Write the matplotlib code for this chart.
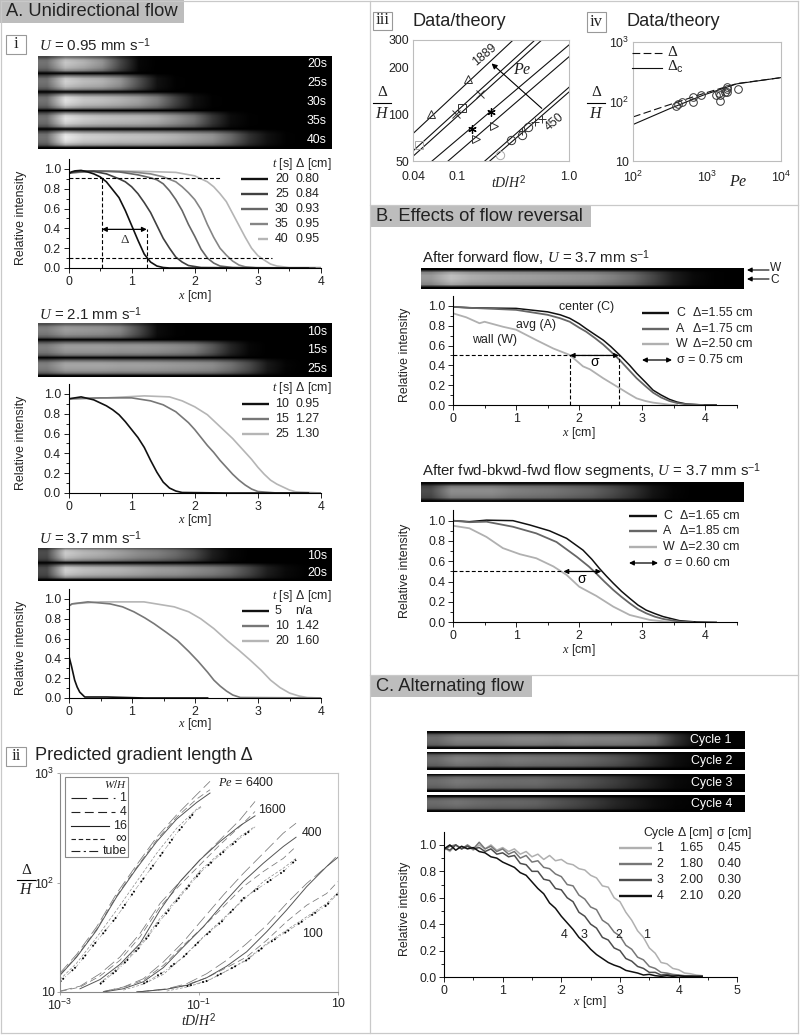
import numpy as np
import matplotlib
matplotlib.use('Agg')
import matplotlib.pyplot as plt
from matplotlib.patches import Rectangle

plt.rcParams['font.family'] = ['Liberation Sans', 'DejaVu Sans']
plt.rcParams['mathtext.fontset'] = 'custom'
plt.rcParams['mathtext.rm'] = 'Liberation Sans'
plt.rcParams['mathtext.it'] = 'Liberation Serif:italic'
plt.rcParams['mathtext.bf'] = 'Liberation Sans:bold'

# strip brightness along the channel (16 evenly spaced columns)
a1_20 = [.45, .78, .7, .58, .28, .03, 0, 0, 0, 0, 0, 0, 0, 0, 0, 0]
a1_25 = [.45, .82, .74, .7, .58, .32, .07, .01, 0, 0, 0, 0, 0, 0, 0, 0]
a1_30 = [.45, .88, .78, .75, .7, .63, .5, .27, .07, .01, 0, 0, 0, 0, 0, 0]
a1_35 = [.45, .88, .8, .76, .74, .72, .68, .58, .46, .22, .05, .01, 0, 0, 0, 0]
a1_40 = [.45, .92, .82, .8, .77, .76, .74, .7, .64, .58, .42, .2, .07, .01, 0, 0]
a2_10 = [.5, .62, .6, .58, .52, .3, .05, .01, 0, 0, 0, 0, 0, 0, 0, 0]
a2_15 = [.5, .62, .62, .62, .6, .6, .58, .55, .5, .35, .15, .03, 0, 0, 0, 0]
a2_25 = [.5, .65, .65, .65, .63, .63, .62, .6, .58, .55, .45, .3, .1, .02, 0, 0]
a3_10 = [.3, .8, .72, .68, .62, .55, .5, .42, .3, .12, .03, 0, 0, 0, 0, 0]
a3_20 = [.3, .82, .75, .72, .7, .66, .62, .6, .55, .5, .42, .28, .12, .04, .01, 0]
b1_strip = [.6, .75, .68, .65, .63, .62, .6, .58, .56, .5, .42, .28, .12, .04, .01, 0]
b2_strip = [.3, .55, .55, .55, .5, .48, .46, .42, .38, .3, .2, .08, .02, 0, 0, 0]
c_strip1 = [.42, .5, .5, .5, .52, .52, .5, .52, .5, .5, .48, .42, .2, .05, .02, .01]
c_strip2 = [.42, .5, .48, .45, .47, .45, .44, .42, .38, .33, .25, .15, .06, .02, .01, .01]
c_strip3 = [.42, .47, .45, .43, .42, .42, .38, .35, .3, .24, .17, .1, .04, .02, .01, .01]
c_strip4 = [.42, .45, .42, .4, .4, .38, .33, .28, .22, .15, .1, .05, .02, .01, .01, .01]

# panel A i, U = 0.95
i20_x = [0, .05, .1, .2, .3, .4, .5, .6, .7, .8, .9, 1.0, 1.1, 1.2, 1.3, 1.4, 1.5, 1.6, 1.8, 2.5, 3.8]
i20_y = [.95, .97, .98, .985, .97, .95, .92, .87, .79, .71, .58, .43, .28, .14, .06, .02, .005, 0, 0, 0, 0]
i25_x = [0, .2, .4, .6, .8, .9, 1.0, 1.1, 1.2, 1.3, 1.4, 1.5, 1.6, 1.7, 1.8, 1.9, 2.1, 3, 3.9]
i25_y = [.96, .98, .975, .95, .9, .87, .82, .75, .66, .56, .43, .3, .2, .11, .06, .025, .005, 0, 0]
i30_x = [0, .4, .8, 1.1, 1.3, 1.4, 1.5, 1.6, 1.7, 1.8, 1.9, 2.0, 2.1, 2.2, 2.3, 2.4, 2.6, 3.9]
i30_y = [.96, .98, .97, .94, .91, .89, .85, .78, .69, .58, .44, .32, .19, .1, .05, .02, .005, 0]
i35_x = [0, .5, 1, 1.3, 1.5, 1.7, 1.8, 1.9, 2.0, 2.1, 2.2, 2.3, 2.4, 2.5, 2.6, 2.7, 2.8, 3, 4]
i35_y = [.96, .98, .97, .95, .92, .87, .82, .76, .69, .59, .44, .31, .2, .13, .07, .03, .012, 0, 0]
i40_x = [0, .6, 1.2, 1.7, 2.0, 2.2, 2.3, 2.4, 2.5, 2.6, 2.7, 2.8, 2.9, 3.0, 3.1, 3.2, 3.3, 3.5, 4]
i40_y = [.96, .98, .975, .965, .93, .87, .82, .75, .67, .55, .43, .31, .2, .125, .08, .04, .02, .005, .005]

# panel A, U = 2.1
u2_10_x = [0, .2, .4, .5, .6, .7, .8, .9, 1.0, 1.1, 1.2, 1.3, 1.4, 1.5, 1.6, 1.7, 1.8, 2.5, 3.8]
u2_10_y = [.95, .97, .94, .91, .88, .84, .79, .72, .64, .56, .46, .33, .21, .11, .05, .02, .005, 0, 0]
u2_15_x = [0, .5, 1, 1.3, 1.5, 1.7, 1.9, 2.0, 2.1, 2.2, 2.3, 2.4, 2.5, 2.6, 2.7, 2.8, 2.9, 3.0, 3.3, 4]
u2_15_y = [.95, .96, .96, .93, .89, .82, .71, .64, .56, .48, .41, .33, .26, .19, .13, .08, .04, .015, 0, 0]
u2_25_x = [0, .6, 1.2, 1.6, 1.8, 2.0, 2.2, 2.4, 2.6, 2.7, 2.8, 2.9, 3.0, 3.1, 3.2, 3.3, 3.4, 3.5, 3.6, 4]
u2_25_y = [.95, .96, .98, .97, .93, .87, .79, .67, .55, .48, .41, .34, .26, .19, .13, .09, .06, .03, .012, 0]

# panel A, U = 3.7
u3_5_x = [0, .04, .09, .13, .17, .25, .6, 1.2, 2.2]
u3_5_y = [.42, .32, .18, .11, .06, .01, .01, 0, 0]
u3_10_x = [0, .05, .3, .65, .85, 1.03, 1.2, 1.35, 1.55, 1.72, 1.9, 2.05, 2.2, 2.3, 2.4, 2.5, 2.6, 2.72, 4]
u3_10_y = [.93, .95, .97, .95, .92, .87, .81, .75, .66, .58, .47, .37, .26, .18, .12, .07, .03, .005, 0]
u3_20_x = [0, .05, .5, 1.19, 1.67, 1.9, 2.09, 2.3, 2.51, 2.7, 2.88, 3.05, 3.2, 3.35, 3.5, 3.65, 3.78, 4]
u3_20_y = [.93, .95, .97, .97, .92, .87, .8, .7, .58, .48, .38, .28, .18, .105, .05, .02, .005, 0]

# panel A ii, predicted gradient length
pe6400_x = [.001, .00174, .00337, .00653, .0127, .0246, .0477, .0925, .144]
pe6400_xs = [.001, .00174, .00337, .00653, .0127, .0246, .0477, .0925, .107]
pe6400_w1 = [14.9, 22.1, 39.4, 79.4, 145, 259, 415, 634, 839]
pe6400_w4 = [14.4, 21.2, 37.5, 75.7, 138, 245, 395, 578, 703]
pe6400_w16 = [14.2, 20.9, 36.7, 74, 135, 236, 379, 538, 656]
pe6400_inf = [13, 18.4, 31.5, 56, 102, 185, 313, 468, 495]
pe6400_tube = [12.4, 17.2, 29.1, 48.6, 89.7, 158, 282, 461, 484]
pe1600_x = [.001, .00194, .00377, .0073, .01416, .0275, .0533, .1033, .2, .389, .64]
pe1600_w1 = [10.2, 11.3, 14.7, 20.9, 34.2, 64.4, 102, 161, 245, 374, 550]
pe1600_w4 = [10.1, 11.1, 14, 19.5, 31.9, 60, 95, 145, 221, 325, 445]
pe1600_w16 = [np.nan, 10.7, 13, 17.9, 27.7, 56, 102, 161, 236, 330, 406]
pe1600_inf = [np.nan, np.nan, 12.1, 17.3, 26.7, 47, 76.8, 128, 185, 263, 325]
pe1600_tube = [np.nan, np.nan, 11.8, 16.7, 25.8, 44.7, 74, 123, 179, 254, 320]
pe400_x = [.0042, .00815, .0158, .0307, .0595, .1154, .224, .434, .843, 1.63, 2.49]
pe400_w1 = [10.1, 11.1, 13.2, 18.8, 28.7, 47, 76.8, 121, 185, 282, 348]
pe400_w4 = [10.1, 11, 12.8, 17.5, 26.7, 39.4, 60, 91.6, 126, 166, 213]
pe400_w16 = [10, 10.7, 12.4, 16.7, 25.8, 39.4, 64.4, 102, 150, 213, 259]
pe400_inf = [np.nan, 10.4, 11.8, 14.5, 20.9, 31.9, 47, 69, 102, 135, 166]
pe400_tube = [np.nan, np.nan, 11.9, 15.2, 20.9, 31.5, 45.3, 71.6, 95, 126, 161]
pe100_x = [.0127, .0343, .0665, .129, .25, .485, .942, 1.82, 3.54, 6.87, 10]
pe100_w1 = [10, 10.7, 11.9, 14.7, 19.5, 27.7, 40.7, 64.4, 98, 140, 179]
pe100_w4 = [10, 10.6, 11.6, 13.5, 16.7, 20.9, 29.7, 43.9, 62, 79.4, 102]
pe100_w16 = [10, 10.6, 11.5, 13.5, 17.2, 23.3, 35.5, 56, 91.6, 140, 170]
pe100_inf = [np.nan, 10.2, 11.1, 12.5, 15.6, 19.8, 27.7, 36.7, 48.6, 64.4, 81]
pe100_tube = [np.nan, np.nan, 11.3, 12.6, 15.6, 19.5, 27.1, 35.5, 46.9, 62, 79.4]

# panel A iii, data/theory
iii_lines_x = [[.04, .316], [.04, .496], [.04, .57], [.0593, 1], [.0825, 1], [.176, 1], [.195, 1]]
iii_lines_y = [[75, 300], [58, 300], [53.6, 300], [50, 279], [50, 234], [50, 149], [50, 139]]
tri_up_x, tri_up_y = [.0585, .1247], [101, 168]
square_x, square_y = [.11], [109]
square_gray_x, square_gray_y = [.0453], [63.8]
cross_x, cross_y = [.0966, .161], [101, 134]
star_x, star_y = [.134, .198], [80, 103.6]
tri_right_x, tri_right_y = [.146, .212], [69.7, 84.5]
circle_x, circle_y = [.3, .376, .432], [68, 73.2, 82.8]
circle_gray_x, circle_gray_y = [.24], [54.4]
plus_x, plus_y = [.376, .496, .57], [78, 89, 93.7]

# panel A iv
iv_pe = [100, 255, 891, 2530, 10000]
iv_pe2 = [100, 315, 891, 2530, 10000]
iv_delta = [55, 81.4, 136, 200, 252]
iv_delta_c = [41, 76, 128, 198, 252]
iv_pts_pe = [387, 408, 453, 652, 652, 820, 1312, 1469, 1500, 1500, 1754, 1849, 1849, 1849, 2660]
iv_pts_d = [83.6, 90, 98.7, 97, 117, 128, 128, 141.5, 131, 102.6, 145, 176, 165, 145, 161]

# panel B, after forward flow
b1_c_x = [0, .3, 1.0, 1.5, 1.7, 1.85, 2.0, 2.11, 2.25, 2.38, 2.5, 2.64, 2.8, 2.91, 3.05, 3.17, 3.3, 3.43, 3.55, 3.7, 3.96, 4.17]
b1_c_y = [.99, .98, .975, .94, .91, .875, .82, .77, .71, .655, .59, .505, .4, .32, .23, .15, .1, .057, .03, .01, 0, 0]
b1_a_x = [0, .3, 1.0, 1.5, 1.7, 1.85, 2.0, 2.11, 2.25, 2.38, 2.5, 2.64, 2.8, 2.91, 3.05, 3.17, 3.3, 3.43, 3.55, 3.7, 3.96]
b1_a_y = [.99, .98, .96, .91, .875, .84, .78, .74, .675, .61, .54, .455, .345, .27, .19, .125, .075, .04, .02, .007, 0]
b1_w_x = [0, .21, .42, .5, .79, 1, 1.32, 1.59, 1.85, 2.06, 2.17, 2.38, 2.64, 2.78, 2.91, 3.05, 3.17, 3.43, 3.55]
b1_w_y = [.925, .885, .825, .84, .79, .76, .655, .57, .505, .39, .36, .27, .17, .115, .067, .04, .024, .003, 0]

# panel B, fwd-bkwd-fwd
b2_c_x = [0, .26, .53, .95, 1.22, 1.53, 1.8, 2.06, 2.2, 2.32, 2.43, 2.54, 2.67, 2.8, 2.93, 3.06, 3.2, 3.33, 3.59, 3.86, 4.17]
b2_c_y = [1.0, .99, 1.005, 1.0, .957, .9, .826, .71, .62, .53, .455, .384, .305, .236, .17, .12, .085, .056, .016, .003, 0]
b2_a_x = [0, .26, .53, .95, 1.32, 1.64, 1.96, 2.15, 2.27, 2.4, 2.54, 2.67, 2.8, 2.93, 3.06, 3.2, 3.33, 3.59, 3.8]
b2_a_y = [1.0, .985, .99, .94, .875, .79, .645, .55, .48, .4, .318, .25, .187, .13, .089, .055, .033, .007, 0]
b2_w_x = [0, .26, .53, .79, 1.06, 1.32, 1.59, 1.8, 2.0, 2.27, 2.54, 2.8, 3.12, 3.43, 3.6]
b2_w_y = [.95, .925, .84, .73, .67, .63, .55, .466, .35, .26, .154, .072, .023, .003, 0]

# panel C, alternating flow
cycle_x = [0, .1, .2, .3, .4, .5, .6, .7, .8, .9, 1.0, 1.1, 1.2, 1.3, 1.4, 1.5, 1.6, 1.7, 1.8, 1.9, 2.0, 2.1,
           2.2, 2.3, 2.4, 2.5, 2.6, 2.7, 2.8, 2.9, 3.0, 3.1, 3.2, 3.3, 3.4, 3.5, 3.6, 3.7, 3.8, 3.9, 4.0,
           4.1, 4.2, 4.3, 4.4]
cycle1 = [.98, .95, 1.0, .97, .99, .96, 1.0, .97, 1.0, .96, .98, .95, .97, .93, .95, .91, .93, .89, .92, .88,
          .89, .86, .85, .82, .81, .77, .75, .69, .68, .6, .57, .49, .43, .35, .3, .22, .18, .11, .1, .065,
          .055, .03, .025, .015, .01]
cycle2 = [.96, .99, 1.0, .97, 1.0, .97, 1.02, .97, .99, .95, .97, .93, .95, .9, .92, .87, .88, .83, .82, .78,
          .76, .7, .69, .62, .59, .53, .51, .43, .4, .34, .31, .24, .21, .15, .13, .08, .065, .035, .03, .02,
          .015, .01, .01, .005, .005]
cycle3 = [.98, .96, 1.0, .97, .99, .97, .98, .95, .97, .93, .94, .91, .92, .86, .85, .8, .8, .74, .73, .67,
          .66, .6, .57, .49, .46, .4, .37, .3, .28, .22, .2, .14, .12, .08, .065, .035, .035, .015, .02,
          .01, .01, .005, .005, .005, .005]
cycle4 = [.97, 1.0, .96, .99, .97, .98, .95, .94, .91, .9, .87, .85, .83, .79, .77, .72, .67, .63, .56, .52,
          .46, .41, .36, .3, .26, .21, .17, .14, .11, .09, .075, .05, .04, .03, .015, .02, .01, .005, .01,
          .005, .01, .005, .005, .005, .005]

fig = plt.figure(figsize=(8, 10.35), dpi=100)
fig.patch.set_facecolor('white')


def px_axes(left, top, right, bottom, **kw):
    return fig.add_axes([left / 800, 1 - bottom / 1035, (right - left) / 800, (bottom - top) / 1035], **kw)


# overlay in picture pixels for texts, frames and legends
ov = px_axes(0, 0, 800, 1035, zorder=20)
ov.set_xlim(0, 800)
ov.set_ylim(1035, 0)
ov.axis('off')
ov.patch.set_alpha(0)


def txt(x, y, s, size=8.9, **kw):
    kw.setdefault('va', 'center')
    kw.setdefault('color', '#222222')
    return ov.text(x, y, s, fontsize=size, **kw)


def strip(left, top, right, bottom, profiles, rows=(.6, .95, 1, .97, .9, .7, 0)):
    ax = px_axes(left, top, right, bottom)
    img = np.vstack([np.outer(rows, p) for p in profiles])
    ax.imshow(img, cmap='gray', vmin=0, vmax=1, aspect='auto', interpolation='bilinear')
    ax.axis('off')


def profile_axes(left, top, right, bottom, xmax, ylabel_x, xlabel_x, xlabel_y):
    ax = px_axes(left, top, right, bottom)
    ax.set_xlim(0, xmax)
    ax.set_ylim(0, 1.1)
    ax.patch.set_alpha(0)
    for s in ['top', 'right']:
        ax.spines[s].set_visible(False)
    for s in ['left', 'bottom']:
        ax.spines[s].set_linewidth(.8)
    ax.set_xticks(np.arange(0, xmax + .01, 1))
    ax.set_xticks(np.arange(0, xmax + .01, .5), minor=True)
    ax.set_yticks([0, .2, .4, .6, .8, 1.0])
    ax.set_yticks([.1, .3, .5, .7, .9], minor=True)
    ax.set_yticklabels(['0.0', '0.2', '0.4', '0.6', '0.8', '1.0'])
    ax.tick_params(which='major', length=3.5, width=.7, labelsize=8.9, pad=2, colors='#222222')
    ax.tick_params(which='minor', length=2, width=.6)
    txt(ylabel_x, (top + bottom) / 2 + 4, 'Relative intensity', rotation=90, ha='center')
    txt(xlabel_x, xlabel_y, r'$\mathit{x}$ [cm]', ha='center')
    return ax


def legend_row(x0, x1, y, color, lw=1.7):
    ov.plot([x0, x1], [y, y], color=color, lw=lw, solid_capstyle='butt')


def arrow(ax, x0, x1, y):
    ax.annotate('', xy=(x1, y), xytext=(x0, y),
                arrowprops=dict(arrowstyle='<|-|>', color='k', lw=.9, mutation_scale=7, shrinkA=0, shrinkB=0))


def dashes(ax, xs, ys):
    ax.plot(xs, ys, color='k', lw=.8, ls=(0, (3.5, 2)))


def frac(x, y):
    txt(x, y - 10, 'Δ', size=11, ha='center', family='Liberation Serif')
    ov.plot([x - 9, x + 9], [y, y], color='k', lw=.8)
    txt(x, y + 10, r'$\mathit{H}$', size=11.5, ha='center')


def num_box(x0, y0, x1, y1, s):
    ov.add_patch(Rectangle((x0, y0), x1 - x0, y1 - y0, fc='white', ec='#999999', lw=.8))
    txt((x0 + x1) / 2, (y0 + y1) / 2 - .5, s, size=12, ha='center', family='Liberation Serif')


# frames and section headers
for xs, ys in [([1, 798], [1, 1]), ([1, 1], [1, 1033]), ([1, 798], [1033, 1033]), ([798, 798], [1, 1033]),
               ([370, 370], [1, 1033]), ([370, 798], [205, 205]), ([370, 798], [675, 675])]:
    ov.plot(xs, ys, color='#c9c9c9', lw=.9)
for x0, y0, x1, y1, s in [(0, 0, 184, 23, 'A. Unidirectional flow'), (370, 205, 591, 227, 'B. Effects of flow reversal'),
                          (370, 675, 532, 697, 'C. Alternating flow')]:
    ov.add_patch(Rectangle((x0, y0), x1 - x0, y1 - y0, fc='#bdbdbd', ec='none', zorder=0))
    txt(x0 + 6.5, (y0 + y1) / 2 + .5, s, size=13.2)

# panel A i
num_box(6, 35, 26, 54, 'i')
txt(39, 45, r'$\mathit{U}$ = 0.95 mm s$^{\mathrm{-1}}$', size=10.8)
strip(38, 56, 332, 149, [a1_20, a1_25, a1_30, a1_35, a1_40])
for y, s in zip([64, 83, 102, 121, 140], ['20s', '25s', '30s', '35s', '40s']):
    txt(327, y, s, ha='right', color='white')
ax = profile_axes(68.5, 159, 321, 268, 4, 21, 195, 296)
for x, y, c in [(i40_x, i40_y, '#b5b5b5'), (i35_x, i35_y, '#858585'), (i30_x, i30_y, '#666666'),
                (i25_x, i25_y, '#404040'), (i20_x, i20_y, '#111111')]:
    ax.plot(x, y, color=c, lw=1.2)
dashes(ax, [0, 2.4], [.91, .91])
dashes(ax, [0, 3.22], [.1, .1])
dashes(ax, [.53, .53], [0, .91])
dashes(ax, [1.24, 1.24], [0, .39])
arrow(ax, .53, 1.24, .39)
ax.text(.89, .28, 'Δ', fontsize=9.5, ha='center', va='center', family='Liberation Serif', color='#333333')
txt(272, 164, r'$\mathit{t}$ [s] Δ [cm]')
for y, x0, c, a, b in [(179, 241, '#111111', '20', '0.80'), (194, 241, '#404040', '25', '0.84'), (209, 241, '#666666', '30', '0.93'),
                       (224, 250, '#858585', '35', '0.95'), (239, 258, '#b5b5b5', '40', '0.95')]:
    legend_row(x0, 268, y, c)
    txt(275, y, a)
    txt(295, y, b)

# U = 2.1
txt(39, 314, r'$\mathit{U}$ = 2.1 mm s$^{\mathrm{-1}}$', size=10.8)
strip(38, 323, 332, 377, [a2_10, a2_15, a2_25])
for y, s in zip([332, 350, 369], ['10s', '15s', '25s']):
    txt(327, y, s, ha='right', color='white')
ax = profile_axes(68.5, 384, 321, 493, 4, 21, 195, 520)
for x, y, c in [(u2_25_x, u2_25_y, '#b5b5b5'), (u2_15_x, u2_15_y, '#777777'), (u2_10_x, u2_10_y, '#111111')]:
    ax.plot(x, y, color=c, lw=1.2)
txt(272, 388, r'$\mathit{t}$ [s] Δ [cm]')
for y, c, a, b in [(404, '#111111', '10', '0.95'), (419, '#777777', '15', '1.27'), (434, '#b5b5b5', '25', '1.30')]:
    legend_row(242, 269, y, c)
    txt(275, y, a)
    txt(295, y, b)

# U = 3.7
txt(39, 538, r'$\mathit{U}$ = 3.7 mm s$^{\mathrm{-1}}$', size=10.8)
strip(38, 548, 332, 581, [a3_10, a3_20])
for y, s in zip([556, 573], ['10s', '20s']):
    txt(327, y, s, ha='right', color='white')
ax = profile_axes(69, 589, 321, 698, 4, 21, 195, 724)
for x, y, c in [(u3_20_x, u3_20_y, '#b5b5b5'), (u3_10_x, u3_10_y, '#777777'), (u3_5_x, u3_5_y, '#111111')]:
    ax.plot(x, y, color=c, lw=1.2)
txt(272, 596, r'$\mathit{t}$ [s] Δ [cm]')
for y, c, a, b in [(611, '#111111', '5', 'n/a'), (626, '#777777', '10', '1.42'), (641, '#b5b5b5', '20', '1.60')]:
    legend_row(242, 269, y, c)
    txt(275, y, a)
    txt(295, y, b)

# panel A ii
num_box(6, 747, 26, 766, 'ii')
txt(35, 755, 'Predicted gradient length Δ', size=13.1)
ax = px_axes(60, 773, 338, 992)
ax.set_xscale('log')
ax.set_yscale('log')
ax.set_xlim(1e-3, 10)
ax.set_ylim(10, 1000)
ax.set_xticks([1e-3, 1e-1, 10])
ax.set_xticklabels([r'$\mathregular{10^{-3}}$', r'$\mathregular{10^{-1}}$', '10'])
ax.set_yticks([10, 100, 1000])
ax.set_yticklabels(['10', r'$\mathregular{10^{2}}$', r'$\mathregular{10^{3}}$'])
ax.minorticks_off()
ax.tick_params(length=2, width=.6, labelsize=8.9, pad=2, color='#999999', labelcolor='#222222')
for s in ax.spines.values():
    s.set_color('#c4c4c4')
ax.spines['left'].set_color('#888888')
ax.spines['bottom'].set_color('#888888')
line_c = '#555555'
for x, xs, w1, w4, w16, inf, tube in [
        (pe6400_x, pe6400_xs, pe6400_w1, pe6400_w4, pe6400_w16, pe6400_inf, pe6400_tube),
        (pe1600_x, pe1600_x, pe1600_w1, pe1600_w4, pe1600_w16, pe1600_inf, pe1600_tube),
        (pe400_x, pe400_x, pe400_w1, pe400_w4, pe400_w16, pe400_inf, pe400_tube),
        (pe100_x, pe100_x, pe100_w1, pe100_w4, pe100_w16, pe100_inf, pe100_tube)]:
    ax.plot(x, w1, color='#777777', lw=.55, ls=(0, (16, 6)))
    ax.plot(x, w4, color='#777777', lw=.55, ls=(0, (9, 5)))
    ax.plot(x, w16, color=line_c, lw=.7)
    ax.plot(xs, inf, color='#888888', lw=.5, ls=(0, (4, 2.5)))
    ax.plot(xs, tube, color='#999999', lw=.45, ls=(0, (8, 3, 2, 3)))
    ax.plot(xs, tube, color='k', lw=1.3, ls=(0, (.9, 1.1, .9, 6)))
ov.add_patch(Rectangle((65, 777), 63, 80, fc='white', ec='#888888', lw=.8))
txt(127, 784, r'$\mathit{W/H}$', size=8, ha='right')
for y, x1, ls, lab, sz, ty in [(798, 115, (0, (14, 5)), '1', 8.9, 798), (812, 115, (0, (8, 4)), '4', 8.9, 812),
                               (826, 109, '-', '16', 8.9, 826), (839, 105, (0, (4, 2.5)), '∞', 11, 837.5),
                               (851, 100, (0, (8, 3, 2, 3)), 'tube', 8.9, 851.5)]:
    ov.plot([71, x1], [y, y], color='#222222', lw=.8, ls=ls)
    txt(126.5, ty, lab, size=sz, ha='right')
txt(218, 783, r'$\mathit{Pe}$ = 6400')
txt(258, 810, '1600')
txt(302, 833, '400')
txt(302, 934, '100')
frac(26, 880)
txt(199, 1020, r'$\mathit{tD/H}^{\mathrm{2}}$', size=10, ha='center')

# panel A iii
num_box(373, 12, 392, 30, 'iii')
txt(412, 21, 'Data/theory', size=13.1)
ax = px_axes(413, 40, 569, 161)
ax.set_xscale('log')
ax.set_yscale('log')
ax.set_xlim(.04, 1)
ax.set_ylim(50, 300)
ax.set_xticks([.04, .1, 1])
ax.set_xticklabels(['0.04', '0.1', '1.0'])
ax.set_yticks([50, 100, 200, 300])
ax.set_yticklabels(['50', '100', '200', '300'])
ax.minorticks_off()
ax.tick_params(length=0, labelsize=8.9, pad=3, labelcolor='#222222')
ax.tick_params(axis='x', pad=7)
for s in ax.spines.values():
    s.set_color('#bdbdbd')
for x, y in zip(iii_lines_x, iii_lines_y):
    ax.plot(x, y, color='#111111', lw=.8)
mk = dict(ls='none', mfc='none', ms=6, mew=.7, clip_on=False)
ax.plot(tri_up_x, tri_up_y, marker='^', color='#333333', **mk)
ax.plot(square_x, square_y, marker='s', color='#333333', **mk)
ax.plot(square_gray_x, square_gray_y, marker='s', color='#aaaaaa', **mk)
ax.plot(cross_x, cross_y, marker='x', color='#333333', **mk)
ax.plot(star_x, star_y, marker=(6, 2, 0), color='k', ls='none', ms=6, mew=.9)
ax.plot(tri_right_x, tri_right_y, marker='>', color='#333333', **mk)
ax.plot(circle_x, circle_y, marker='o', color='#333333', **mk)
ax.plot(circle_gray_x, circle_gray_y, marker='o', color='#aaaaaa', **mk)
ax.plot(plus_x, plus_y, marker='+', color='#333333', **mk)
ax.annotate('', xy=(.2023, 212), xytext=(.57, 109),
            arrowprops=dict(arrowstyle='-|>', color='k', lw=.8, mutation_scale=8, shrinkA=0, shrinkB=0))
txt(522, 70, r'$\mathit{Pe}$', size=11.5, ha='center')
txt(485, 55, '1889', rotation=40, ha='center')
txt(555, 122, '450', rotation=40, ha='center')
frac(382, 103)
txt(509, 182, r'$\mathit{tD/H}^{\mathrm{2}}$', size=10, ha='center')

# panel A iv
num_box(587, 12, 606, 32, 'iv')
txt(626, 21, 'Data/theory', size=13.1)
ax = px_axes(633, 42, 781, 161)
ax.set_xscale('log')
ax.set_yscale('log')
ax.set_xlim(100, 10000)
ax.set_ylim(10, 1000)
ax.set_xticks([100, 1000, 10000])
ax.set_xticklabels([r'$\mathregular{10^{2}}$', r'$\mathregular{10^{3}}$', r'$\mathregular{10^{4}}$'])
ax.set_yticks([10, 100, 1000])
ax.set_yticklabels(['10', r'$\mathregular{10^{2}}$', r'$\mathregular{10^{3}}$'])
ax.minorticks_off()
ax.tick_params(length=0, labelsize=8.9, pad=3, labelcolor='#222222')
ax.tick_params(axis='x', pad=6)
for s in ax.spines.values():
    s.set_color('#bdbdbd')
ax.plot(iv_pe, iv_delta, color='#111111', lw=.8, ls=(0, (7, 3)))
ax.plot(iv_pe2, iv_delta_c, color='#111111', lw=.8)
ax.plot(iv_pts_pe, iv_pts_d, ls='none', marker='o', mfc='none', mec='#333333', ms=5.5, mew=.7)
ov.plot([632, 662], [53, 53], color='#111111', lw=.8, ls=(0, (7, 3)))
ov.plot([632, 662], [68, 68], color='#111111', lw=.8)
txt(667, 52, 'Δ', size=11, family='Liberation Serif')
txt(667, 67, r'Δ$_{\mathrm{c}}$', size=11, family='Liberation Serif')
frac(596, 103)
txt(738, 182, r'$\mathit{Pe}$', size=11.5, ha='center')

# panel B, first
txt(422, 258, r'After forward flow, $\mathit{U}$ = 3.7 mm s$^{\mathrm{-1}}$', size=10.8)
strip(421, 268, 744, 289, [b1_strip], rows=(0, .85, 1, 1, .95, .85, 0))
for y, s, ty in [(270, 'W', 268), (279, 'C', 280)]:
    ov.annotate('', xy=(747, y), xytext=(769, y),
                arrowprops=dict(arrowstyle='-|>', color='k', lw=.8, mutation_scale=7, shrinkA=0, shrinkB=0))
    txt(770, ty, s, size=8.6)
ax = profile_axes(453, 296, 737, 405, 4.5, 405, 579, 433)
ax.plot(b1_w_x, b1_w_y, color='#b0b0b0', lw=1.3)
ax.plot(b1_c_x, b1_c_y, color='#111111', lw=1.1)
ax.plot(b1_a_x, b1_a_y, color='#666666', lw=1.3)
dashes(ax, [0, 2.63], [.5, .5])
dashes(ax, [1.85, 1.85], [0, .5])
dashes(ax, [2.63, 2.63], [0, .5])
arrow(ax, 1.85, 2.63, .5)
ax.text(2.24, .43, 'σ', fontsize=10, ha='center', va='center')
txt(587, 307, 'center (C)', ha='center')
txt(536, 325, 'avg (A)', ha='center')
txt(495, 340, 'wall (W)', ha='center')
for y, c, a, b in [(313, '#111111', 'C', 'Δ=1.55 cm'), (329, '#666666', 'A', 'Δ=1.75 cm'), (344, '#b0b0b0', 'W', 'Δ=2.50 cm')]:
    legend_row(642, 669, y, c)
    txt(676, y, a)
    txt(693, y, b)
ov.annotate('', xy=(672, 360), xytext=(642, 360),
            arrowprops=dict(arrowstyle='<|-|>', color='k', lw=.9, mutation_scale=7, shrinkA=0, shrinkB=0))
txt(677, 360, 'σ = 0.75 cm')

# panel B, second
txt(422, 472, r'After fwd-bkwd-fwd flow segments, $\mathit{U}$ = 3.7 mm s$^{\mathrm{-1}}$', size=10.8)
strip(421, 482, 744, 502, [b2_strip], rows=(.1, .85, 1, 1, .95, .85, .1))
ax = profile_axes(453, 510.5, 737, 622.3, 4.5, 405, 579, 650)
ax.plot(b2_w_x, b2_w_y, color='#b0b0b0', lw=1.3)
ax.plot(b2_c_x, b2_c_y, color='#111111', lw=1.1)
ax.plot(b2_a_x, b2_a_y, color='#666666', lw=1.3)
dashes(ax, [0, 1.75], [.5, .5])
arrow(ax, 1.75, 2.35, .5)
ax.text(2.04, .425, 'σ', fontsize=10, ha='center', va='center')
for y, c, a, b in [(516, '#111111', 'C', 'Δ=1.65 cm'), (531, '#666666', 'A', 'Δ=1.85 cm'), (547, '#b0b0b0', 'W', 'Δ=2.30 cm')]:
    legend_row(629, 657, y, c)
    txt(663, y, a)
    txt(680, y, b)
ov.annotate('', xy=(658, 563), xytext=(629, 563),
            arrowprops=dict(arrowstyle='<|-|>', color='k', lw=.9, mutation_scale=7, shrinkA=0, shrinkB=0))
txt(664, 563, 'σ = 0.60 cm')

# panel C
rows_c = (.05, .85, 1, 1, .95, .85, .05)
for (top, bottom), prof, s in zip([(731, 749), (752, 770), (774, 792), (795, 812)],
                                  [c_strip1, c_strip2, c_strip3, c_strip4],
                                  ['Cycle 1', 'Cycle 2', 'Cycle 3', 'Cycle 4']):
    strip(427, top, 744, bottom, [prof], rows=rows_c)
    txt(732, (top + bottom) / 2, s, ha='right', color='white')
ax = profile_axes(444, 831.7, 737.3, 977, 5, 405, 590, 1002)
for y, c in [(cycle1, '#b0b0b0'), (cycle2, '#777777'), (cycle3, '#4d4d4d'), (cycle4, '#111111')]:
    ax.plot(cycle_x, y, color=c, lw=1.1)
txt(643, 833, 'Cycle')
txt(678, 833, 'Δ [cm]')
txt(717, 833, 'σ [cm]')
for y, c, a, b, d in [(848, '#b0b0b0', '1', '1.65', '0.45'), (864, '#777777', '2', '1.80', '0.40'),
                      (880, '#4d4d4d', '3', '2.00', '0.30'), (896, '#111111', '4', '2.10', '0.20')]:
    legend_row(619, 652, y, c)
    txt(660, y, a, ha='center')
    txt(679, y, b)
    txt(718, y, d)
for x, s in [(564, '4'), (584, '3'), (619, '2'), (647, '1')]:
    txt(x, 935, s, ha='center')

plt.savefig('out.png', dpi=100)
